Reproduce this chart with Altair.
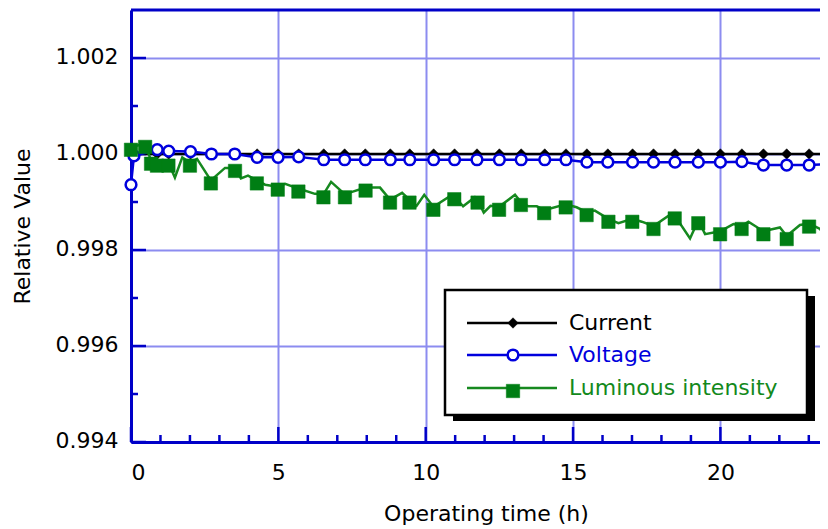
import altair as alt
import pandas as pd

# ---------------- data ----------------
series_names = ["Current", "Voltage", "Luminous intensity"]

# sampling times (h) of the current / voltage markers
vc_time = [0.00, 0.10, 0.89, 1.28, 2.02, 2.73, 3.52, 4.28, 4.99, 5.69,
           6.54, 7.25, 7.95, 8.80, 9.46, 10.27, 10.98, 11.74, 12.50, 13.24,
           14.04, 14.76, 15.47, 16.18, 17.02, 17.73, 18.46, 19.25, 20.00, 20.73,
           21.46, 22.25, 23.01, 23.62]
current_value = [1.00000, 1.00000, 1.00000, 1.00000, 1.00000, 1.00000, 1.00000, 1.00000, 1.00000, 1.00000,
                 1.00000, 1.00000, 1.00000, 1.00000, 1.00000, 1.00000, 1.00000, 1.00000, 1.00000, 1.00000,
                 1.00000, 1.00000, 1.00000, 1.00000, 1.00000, 1.00000, 1.00000, 1.00000, 1.00000, 1.00000,
                 1.00000, 1.00000, 1.00000, 1.00000]
voltage_value = [0.99936, 0.99996, 1.00009, 1.00006, 1.00005, 1.00000, 1.00000, 0.99993, 0.99993, 0.99994,
                 0.99988, 0.99988, 0.99988, 0.99988, 0.99988, 0.99988, 0.99988, 0.99988, 0.99988, 0.99988,
                 0.99988, 0.99988, 0.99983, 0.99983, 0.99983, 0.99983, 0.99983, 0.99983, 0.99983, 0.99984,
                 0.99977, 0.99977, 0.99977, 0.99979]

# luminous intensity: line vertices; lum_marker = 1 where a square marker is drawn
lum_time = [0.00, 0.48, 0.68, 0.88, 1.27, 1.49, 1.74, 2.00, 2.24, 2.71,
            3.19, 3.53, 3.73, 3.97, 4.27, 4.55, 4.98, 5.23, 5.68, 6.24,
            6.53, 6.79, 7.26, 7.50, 7.96, 8.45, 8.79, 9.20, 9.45, 9.69,
            9.95, 10.26, 10.77, 10.97, 11.27, 11.67, 11.76, 11.97, 12.20, 12.49,
            13.03, 13.23, 13.48, 13.77, 14.02, 14.75, 15.12, 15.46, 15.74, 16.20,
            16.54, 17.01, 17.33, 17.73, 18.23, 18.45, 18.97, 19.25, 19.48, 19.99,
            20.44, 20.72, 20.95, 21.46, 22.02, 22.25, 22.70, 23.01, 23.38, 23.65]
lum_value = [1.00015, 1.00021, 0.99986, 0.99982, 0.99982, 0.99951, 0.99993, 0.99982, 0.99990, 0.99945,
             0.99971, 0.99971, 0.99949, 0.99955, 0.99945, 0.99936, 0.99932, 0.99938, 0.99928, 0.99917,
             0.99916, 0.99942, 0.99916, 0.99921, 0.99930, 0.99930, 0.99905, 0.99919, 0.99905, 0.99892,
             0.99915, 0.99890, 0.99910, 0.99912, 0.99891, 0.99910, 0.99905, 0.99878, 0.99892, 0.99890,
             0.99915, 0.99900, 0.99891, 0.99891, 0.99883, 0.99895, 0.99889, 0.99879, 0.99882, 0.99865,
             0.99856, 0.99865, 0.99859, 0.99850, 0.99871, 0.99872, 0.99824, 0.99862, 0.99833, 0.99839,
             0.99854, 0.99850, 0.99859, 0.99839, 0.99847, 0.99829, 0.99852, 0.99855, 0.99844, 0.99817]
lum_marker = [1, 1, 1, 1, 1, 0, 0, 1, 0, 1,
              0, 1, 0, 0, 1, 0, 1, 0, 1, 0,
              1, 0, 1, 0, 1, 0, 1, 0, 1, 0,
              0, 1, 0, 1, 0, 0, 1, 0, 0, 1,
              0, 1, 0, 0, 1, 1, 0, 1, 0, 1,
              0, 1, 0, 1, 0, 1, 0, 1, 0, 1,
              0, 1, 0, 1, 0, 1, 0, 1, 0, 1]

x_major = [0, 5, 10, 15, 20]
x_minor = [1, 2, 3, 4, 6, 7, 8, 9, 11, 12, 13, 14, 16, 17, 18, 19, 21, 22, 23]
y_major = [0.994, 0.996, 0.998, 1.000, 1.002]
y_minor = [0.995, 0.997, 0.999, 1.001]
x_domain = [0, 23.38]
y_domain = [0.994, 1.003]

# ---------------- styling ----------------
W, H = 689, 432
FONT = "DejaVu Sans"
AXIS_BLUE = "#0000c8"
GRID_BLUE = "#8c8cf0"
BLUE = "#0000dd"
GREEN_LINE = "#16891f"
GREEN_MK = "#007e14"
text_colors = ["#000000", BLUE, "#13891c"]

cur_df = pd.DataFrame({"t": vc_time, "v": current_value})
vol_df = pd.DataFrame({"t": vc_time, "v": voltage_value})
lum_df = pd.DataFrame({"t": lum_time, "v": lum_value, "m": lum_marker})
lum_mk = lum_df[lum_df["m"] == 1]

xs = alt.Scale(domain=x_domain, nice=False, zero=False)
ys = alt.Scale(domain=y_domain, nice=False, zero=False)
x_axis = alt.Axis(values=x_major, format="d", title="Operating time (h)", grid=True,
                  ticks=False, tickSize=0, labelPadding=20, labelFlush=True,
                  titleX=355, titleY=71, titleAlign="center", titleBaseline="middle")
y_axis = alt.Axis(values=y_major, format=".3f", title="Relative Value", grid=True,
                  ticks=False, tickSize=0, labelPadding=13, labelOffset=-2,
                  titleX=-109, titleY=216, titleAlign="center", titleBaseline="middle")
X = alt.X("t:Q", scale=xs, axis=x_axis)
Y = alt.Y("v:Q", scale=ys, axis=y_axis)


def point_style(name):
    if name == "Current":
        return dict(shape="diamond", filled=True, fill="#000000", stroke="#000000",
                    strokeWidth=0.5, size=110, opacity=1)
    if name == "Voltage":
        return dict(shape="circle", filled=True, fill="#ffffff", stroke=BLUE,
                    strokeWidth=2.5, size=115, opacity=1)
    return dict(shape="square", filled=True, fill=GREEN_MK, stroke=GREEN_MK,
                strokeWidth=0.5, size=180, opacity=1)


line_colors = ["#000000", BLUE, GREEN_LINE]
one = pd.DataFrame({"k": [0]})

layers = []

# inward ticks and top frame
layers.append(alt.Chart(pd.DataFrame({"v": y_major})).mark_rule(color=AXIS_BLUE, strokeWidth=2.5)
              .encode(y=Y, x=alt.value(0), x2=alt.value(15)))
layers.append(alt.Chart(pd.DataFrame({"v": y_minor})).mark_rule(color=AXIS_BLUE, strokeWidth=2.5)
              .encode(y=Y, x=alt.value(0), x2=alt.value(7)))
layers.append(alt.Chart(pd.DataFrame({"t": x_major})).mark_rule(color=AXIS_BLUE, strokeWidth=2.5)
              .encode(x=X, y=alt.value(H), y2=alt.value(H - 15)))
layers.append(alt.Chart(pd.DataFrame({"t": x_minor})).mark_rule(color=AXIS_BLUE, strokeWidth=2.5)
              .encode(x=X, y=alt.value(H), y2=alt.value(H - 7)))
layers.append(alt.Chart(one).mark_rule(color=AXIS_BLUE, strokeWidth=3)
              .encode(x=alt.value(0), x2=alt.value(W), y=alt.value(0)))

# data series
layers.append(alt.Chart(cur_df).mark_line(color="#000000", strokeWidth=2.5).encode(x=X, y=Y))
layers.append(alt.Chart(cur_df).mark_point(**point_style("Current")).encode(x=X, y=Y))
layers.append(alt.Chart(vol_df).mark_line(color=BLUE, strokeWidth=2.5).encode(x=X, y=Y))
layers.append(alt.Chart(vol_df).mark_point(**point_style("Voltage")).encode(x=X, y=Y))
layers.append(alt.Chart(lum_df).mark_line(color=GREEN_LINE, strokeWidth=2.5).encode(x=X, y=Y))
layers.append(alt.Chart(lum_mk).mark_point(yOffset=3, **point_style("Luminous intensity")).encode(x=X, y=Y))

# custom legend box with drop shadow
LX0, LX1, LY0, LY1 = 314, 676, 280, 405
layers.append(alt.Chart(one).mark_rect(color="#000000")
              .encode(x=alt.value(LX0 + 8), x2=alt.value(LX1 + 8), y=alt.value(LY0 + 6), y2=alt.value(LY1 + 6)))
layers.append(alt.Chart(one).mark_rect(fill="#ffffff", stroke="#000000", strokeWidth=2.5)
              .encode(x=alt.value(LX0), x2=alt.value(LX1), y=alt.value(LY0), y2=alt.value(LY1)))
row_y = [313, 345, 378]
for name, lc, tc, ry in zip(series_names, line_colors, text_colors, row_y):
    layers.append(alt.Chart(one).mark_rule(color=lc, strokeWidth=2.5)
                  .encode(x=alt.value(336), x2=alt.value(426), y=alt.value(ry)))
    layers.append(alt.Chart(one).mark_point(**point_style(name))
                  .encode(x=alt.value(382), y=alt.value(ry + (3 if name == "Luminous intensity" else 0))))
    layers.append(alt.Chart(one).mark_text(align="left", baseline="middle", font=FONT, fontSize=22, color=tc)
                  .encode(x=alt.value(438), y=alt.value(ry), text=alt.value(name)))

chart = (
    alt.layer(*layers)
    .properties(width=W, height=H, autosize=alt.AutoSizeParams(type="none"),
                padding={"left": 123, "top": 2, "right": 0, "bottom": 87}, background="#ffffff")
    .configure_view(stroke="transparent")
    .configure_axis(domainColor=AXIS_BLUE, domainWidth=3, gridColor=GRID_BLUE, gridWidth=2,
                    labelFont=FONT, labelFontSize=22, labelColor="#000000",
                    titleFont=FONT, titleFontSize=22, titleFontWeight="normal", titleColor="#000000")
)

chart.save("out.html", embed_options={"renderer": "svg", "actions": False})
